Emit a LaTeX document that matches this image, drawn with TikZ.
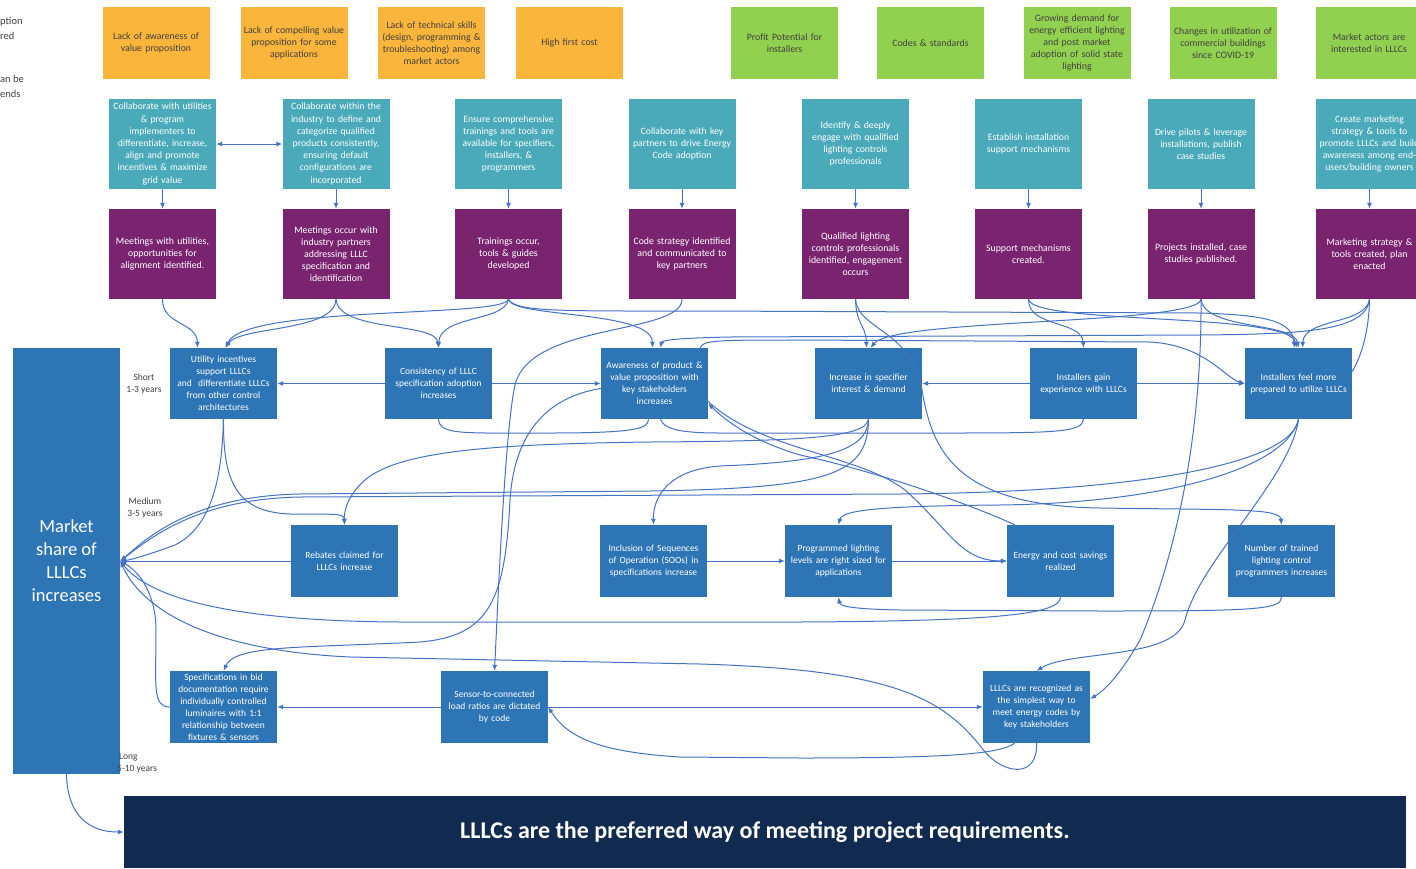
\documentclass[tikz,border=0pt]{standalone}
\usepackage{fontspec}
\setmainfont{Carlito}
\usetikzlibrary{arrows.meta}
\definecolor{orng}{RGB}{250,182,60}
\definecolor{grn}{RGB}{146,208,80}
\definecolor{tealc}{RGB}{75,170,185}
\definecolor{purp}{RGB}{122,36,112}
\definecolor{blu}{RGB}{46,117,182}
\definecolor{navy}{RGB}{17,43,80}
\definecolor{lnc}{RGB}{68,114,196}
\definecolor{dtext}{RGB}{64,64,64}
\begin{document}
\begin{tikzpicture}[x=1pt,y=-1pt,
 >={Latex[length=6pt,width=5pt]},
 box/.style={rectangle, inner sep=1.5pt, text width=104pt, align=center, minimum height=72pt},
 barrier/.style={box, fill=orng, text=dtext, font=\fontsize{9.8}{12}\selectfont},
 driver/.style={box, fill=grn, text=dtext, font=\fontsize{9.8}{12}\selectfont},
 activity/.style={box, fill=tealc, text=white, minimum height=90pt, font=\fontsize{9.7}{12.2}\selectfont},
 outputbox/.style={box, fill=purp, text=white, minimum height=90pt, font=\fontsize{9.8}{12}\selectfont},
 outcome/.style={box, fill=blu, text=white, font=\fontsize{9.5}{12}\selectfont},
 lbl/.style={inner sep=0pt, text=dtext, font=\fontsize{9.5}{12}\selectfont},
 conn/.style={draw=lnc, line width=1pt, ->},
 link/.style={draw=lnc, line width=1pt},
]
\useasboundingbox (0,0) rectangle (1416,868);
\fill[white] (0,0) rectangle (1416,868);
\clip (0,0) rectangle (1416,868);

% partial texts at left edge
\node[lbl, anchor=west, font=\fontsize{10.5}{13}\selectfont] (x1) at (0,22) {ption};
\node[lbl, anchor=west, font=\fontsize{10.5}{13}\selectfont] (x2) at (0,36) {red};
\node[lbl, anchor=west, font=\fontsize{10.5}{13}\selectfont] (x3) at (0,79) {an be};
\node[lbl, anchor=west, font=\fontsize{10.5}{13}\selectfont] (x4) at (0,94) {ends};

% barriers and drivers
\node[barrier] (O1) at (156,43) {Lack of awareness of\\value proposition};
\node[barrier] (O2) at (294,43) {Lack of compelling value\\proposition for some\\applications};
\node[barrier] (O3) at (431.5,43) {Lack of technical skills\\(design, programming \&\\troubleshooting) among\\market actors};
\node[barrier] (O4) at (569.5,43) {High first cost};
\node[driver] (G1) at (784.5,43) {Profit Potential for\\installers};
\node[driver] (G2) at (930.5,43) {Codes \& standards};
\node[driver] (G3) at (1077,43) {Growing demand for\\energy efficient lighting\\and post market\\adoption of solid state\\lighting};
\node[driver] (G4) at (1223,43) {Changes in utilization of\\commercial buildings\\since COVID-19};
\node[driver] (G5) at (1369,43) {Market actors are\\interested in LLLCs};

% activities
\node[activity] (T1) at (162.5,144) {Collaborate with utilities\\\& program\\implementers to\\differentiate, increase,\\align and promote\\incentives \& maximize\\grid value};
\node[activity] (T2) at (336,144) {Collaborate within the\\industry to define and\\categorize qualified\\products consistently,\\ensuring default\\configurations are\\incorporated};
\node[activity] (T3) at (508.5,144) {Ensure comprehensive\\trainings and tools are\\available for specifiers,\\installers, \&\\programmers};
\node[activity] (T4) at (682,144) {Collaborate with key\\partners to drive Energy\\Code adoption};
\node[activity] (T5) at (855.5,144) {Identify \& deeply\\engage with qualified\\lighting controls\\professionals};
\node[activity] (T6) at (1028.5,144) {Establish installation\\support mechanisms};
\node[activity] (T7) at (1201,144) {Drive pilots \& leverage\\installations, publish\\case studies};
\node[activity] (T8) at (1369.5,144) {Create marketing\\strategy \& tools to\\promote LLLCs and build\\awareness among end-\\users/building owners};

% outputs
\node[outputbox] (P1) at (162.5,254) {Meetings with utilities,\\opportunities for\\alignment identified.};
\node[outputbox] (P2) at (336,254) {Meetings occur with\\industry partners\\addressing LLLC\\specification and\\identification};
\node[outputbox] (P3) at (508.5,254) {Trainings occur,\\tools \& guides\\developed};
\node[outputbox] (P4) at (682,254) {Code strategy identified\\and communicated to\\key partners};
\node[outputbox] (P5) at (855.5,254) {Qualified lighting\\controls professionals\\identified, engagement\\occurs};
\node[outputbox] (P6) at (1028.5,254) {Support mechanisms\\created.};
\node[outputbox] (P7) at (1201,254) {Projects installed, case\\studies published.};
\node[outputbox] (P8) at (1369.5,254) {Marketing strategy \&\\tools created, plan\\enacted};

% short-term outcomes
\node[outcome, minimum height=71pt] (B1) at (223.5,383.5) {Utility incentives\\support LLLCs\\and~ differentiate LLLCs\\from other control\\architectures};
\node[outcome, minimum height=71pt] (B2) at (438.5,383.5) {Consistency of LLLC\\specification adoption\\increases};
\node[outcome, minimum height=71pt] (B3) at (654.5,383.5) {Awareness of product \&\\value proposition with\\key stakeholders\\increases};
\node[outcome, minimum height=71pt] (B4) at (868.5,383.5) {Increase in specifier\\interest \& demand};
\node[outcome, minimum height=71pt] (B5) at (1083.5,383.5) {Installers gain\\experience with LLLCs};
\node[outcome, minimum height=71pt] (B6) at (1298.5,383.5) {Installers feel more\\prepared to utilize LLLCs};

% medium-term outcomes
\node[outcome] (C1) at (344.5,561) {Rebates claimed for\\LLLCs increase};
\node[outcome] (C2) at (653.5,561) {Inclusion of Sequences\\of Operation (SOOs) in\\specifications increase};
\node[outcome] (C3) at (838.5,561) {Programmed lighting\\levels are right sized for\\applications};
\node[outcome] (C4) at (1060.5,561) {Energy and cost savings\\realized};
\node[outcome] (C5) at (1281.5,561) {Number of trained\\lighting control\\programmers increases};

% long-term outcomes
\node[outcome] (D1) at (223.5,707) {Specifications in bid\\documentation require\\individually controlled\\luminaires with 1:1\\relationship between\\fixtures \& sensors};
\node[outcome] (D2) at (494.5,707) {Sensor-to-connected\\load ratios are dictated\\by code};
\node[outcome] (D3) at (1036.5,707) {LLLCs are recognized as\\the simplest way to\\meet energy codes by\\key stakeholders};

% market share and banner
\node[fill=blu, minimum width=107pt, minimum height=426pt, inner sep=0pt, text=white, align=center, font=\fontsize{18.5}{23}\selectfont] (M) at (66.5,561) {Market\\share of\\LLLCs\\increases};
\node[fill=navy, minimum width=1282pt, minimum height=72pt, inner sep=0pt, text=white, font=\fontsize{24}{28}\selectfont\bfseries] (F) at (765,832) {LLLCs are the preferred way of meeting project requirements.};

% time labels
\node[lbl, align=center] (Ls) at (144,384) {Short\\1-3 years};
\node[lbl, align=center] (Lm) at (145,508) {Medium\\3-5 years};
\node[lbl, align=left, anchor=west] (Ll) at (117,763) {\hspace{2pt}Long\\5-10 years};

% activities to outputs
\draw[conn, <->] (T1) -- (T2);
\foreach \i in {1,...,8} \draw[conn] (T\i) -- (P\i);

% outputs to short-term outcomes
\draw[conn] (P1.south) .. controls (162,325) and (197,322) .. ([xshift=-26pt]B1.north);
\draw[conn] (P2.south) .. controls (335,332) and (240,326) .. ([xshift=2pt]B1.north);
\draw[conn] (P3.south) .. controls (505,318) and (245,305) .. ([xshift=2pt]B1.north);
\draw[conn] (P2.south) .. controls (338,332) and (436,322) .. (B2.north);
\draw[conn] (P3.south) .. controls (505,322) and (440,315) .. (B2.north);
\draw[conn] (P3.south) .. controls (512,318) and (652,310) .. ([xshift=-2pt]B3.north);
\draw[conn] (P3.south) .. controls (515,312) and (560,311) .. (700,311) -- (1200,313) .. controls (1270,315) and (1292,322) .. ([xshift=-4pt]B6.north);
\draw[conn] (P4.south) .. controls (682,335) and (530,322) .. (515,385) .. controls (505,430) and (498,600) .. (D2.north);
\draw[conn] (P5.south) .. controls (856,325) and (866,325) .. ([xshift=-2pt]B4.north);
\draw[conn] (P7.south) .. controls (1198,325) and (895,318) .. ([xshift=2pt]B4.north);
\draw[conn] (P5.south) .. controls (858,330) and (912,330) .. (922,390) .. controls (932,450) and (955,506) .. (1100,508) .. controls (1230,510) and (1280,508) .. (C5.north);
\draw[conn] (P6.south) .. controls (1028,328) and (1082,320) .. (B5.north);
\draw[conn] (P6.south) .. controls (1032,325) and (1290,312) .. ([xshift=-2pt]B6.north);
\draw[conn] (P7.south) .. controls (1204,330) and (1294,322) .. (B6.north);
\draw[conn] (P7.south) .. controls (1202,450) and (1170,570) .. (1140,640) .. controls (1120,675) and (1105,690) .. ([yshift=8pt]D3.east);
\draw[conn] (P8.south) .. controls (1366,332) and (1300,334) .. (1200,335) -- (730,337) .. controls (680,338) and (662,340) .. ([xshift=6pt]B3.north);
\draw[conn] (P8.south) .. controls (1366,325) and (1304,318) .. ([xshift=4pt]B6.north);
\draw[link] (P8.south) .. controls (1369,330) and (1362,355) .. ([yshift=12pt]B6.east);

% among short-term outcomes
\draw[conn] (B2) -- (B1);
\draw[conn] (B2) -- (B3);
\draw[conn] (B5) -- (B4);
\draw[conn] (B5) -- (B6);
\draw[conn] ([xshift=-8pt]B3.north east) .. controls (702,340) and (720,340) .. (800,340) -- (1150,342) .. controls (1205,345) and (1225,378) .. (B6.west);
\draw[link] (B2.south) .. controls (440,435) and (460,433) .. (550,433) .. controls (640,433) and (648,428) .. ([xshift=-6pt]B3.south);
\draw[link] (B5.south) .. controls (1082,432) and (1060,433) .. (950,433) -- (720,433) .. controls (675,433) and (664,428) .. ([xshift=6pt]B3.south);

% short to medium / long
\draw[conn] (B1.south) .. controls (223,480) and (235,512) .. (290,514) .. controls (330,515) and (344,512) .. (C1.north);
\draw[conn] (B1.south) .. controls (222,470) and (215,525) .. (175,545) .. controls (145,556) and (130,560) .. (M.east);
\draw[conn] (B4.south) .. controls (866,438) and (800,441) .. (650,442) .. controls (500,444) and (400,450) .. (365,480) .. controls (348,495) and (344,510) .. (C1.north);
\draw[conn] (B4.south) .. controls (868,452) and (820,462) .. (720,466) .. controls (665,470) and (653,500) .. (C2.north);
\draw[conn] (B4.south) .. controls (868,475) and (830,488) .. (650,491) -- (300,494) .. controls (190,496) and (145,540) .. (M.east);
\draw[conn] (B6.south) .. controls (1292,462) and (1150,492) .. (900,494) -- (300,497) .. controls (195,499) and (148,540) .. (M.east);
\draw[conn] (B6.south) .. controls (1286,470) and (1160,503) .. (1000,505) .. controls (880,506) and (842,510) .. (C3.north);
\draw[conn] (B6.south) .. controls (1290,480) and (1200,560) .. (1185,620) .. controls (1175,660) and (1070,650) .. (D3.north);
\draw[conn] ([yshift=-18pt]B3.east) .. controls (760,450) and (860,455) .. (905,490) .. controls (950,530) and (960,561) .. (C4.west);
\draw[conn] ([xshift=8pt]C4.north west) .. controls (960,500) and (870,470) .. (800,455) .. controls (750,440) and (725,420) .. ([yshift=-20pt]B3.east);
\draw[conn] ([yshift=-5pt]B3.west) .. controls (560,395) and (515,420) .. (510,500) .. controls (505,600) and (490,636) .. (420,642) .. controls (300,648) and (235,645) .. (D1.north);

% medium-term
\draw[conn] (C2) -- (C3);
\draw[conn] (C3) -- (C4);
\draw[conn] (C1) -- (M);
\draw[conn] (C5.south) .. controls (1282,610) and (1250,611) .. (1100,611) -- (900,610) .. controls (850,609) and (840,606) .. (C3.south);
\draw[conn] (C4.south) .. controls (1060,614) and (1000,621) .. (800,622) -- (400,622) .. controls (210,621) and (145,592) .. (M.east);

% long-term
\draw[conn] (D1.west) .. controls (152,707) and (156,685) .. (156,630) .. controls (156,595) and (140,572) .. (M.east);
\draw[conn] (D2) -- (D1);
\draw[conn] (D2) -- (D3);
\draw[conn] ([xshift=-22pt]D3.south) .. controls (1000,754) and (950,758) .. (800,758) -- (680,757) .. controls (600,752) and (568,738) .. (D2.east);
\draw[conn] (D3.south) .. controls (1038,778) and (1005,775) .. (985,752) .. controls (945,700) and (900,670) .. (700,664) -- (350,657) .. controls (200,650) and (140,605) .. (M.east);
\draw[conn] (M.south) .. controls (67,805) and (80,832) .. (F.west);
\end{tikzpicture}
\end{document}
